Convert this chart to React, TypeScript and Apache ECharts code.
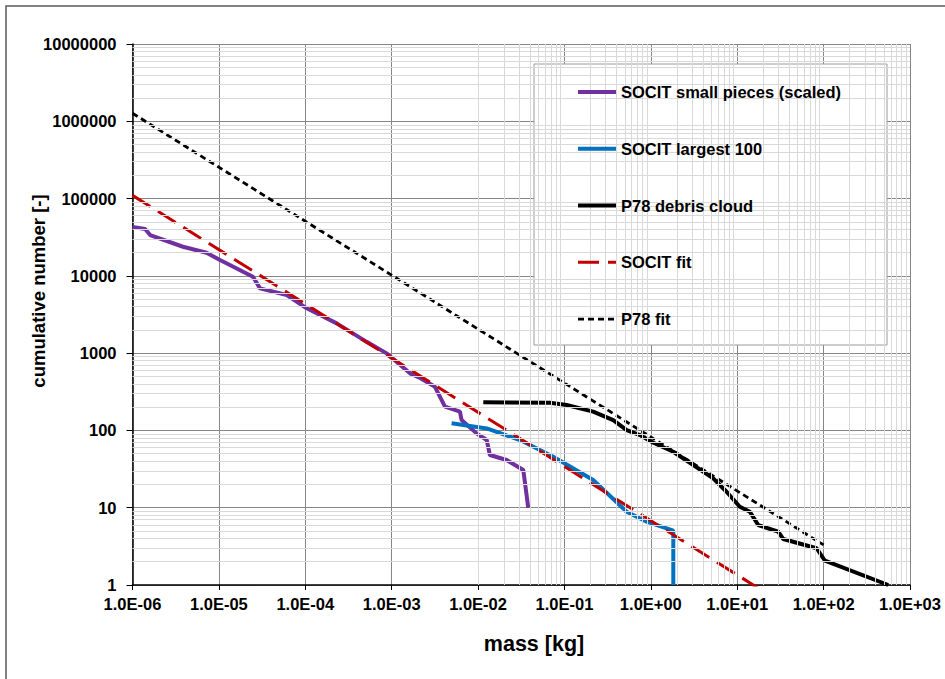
import React, { useEffect, useRef } from "react";
import * as echarts from "echarts";

// mass [kg], cumulative number [-]
const socitSmallPieces: [number, number][] = [
  [1e-6, 42800], [1.4e-6, 40300], [1.6e-6, 33700], [3.84e-6, 23800], [7.2e-6, 19900],
  [1.03e-5, 16000], [2.48e-5, 9730], [2.99e-5, 6890], [6.1e-5, 5650], [1.04e-4, 3800],
  [2.31e-4, 2430], [3.56e-4, 1800], [5.14e-4, 1400], [8.75e-4, 993], [1.63e-3, 548],
  [2.13e-3, 476], [3.17e-3, 367], [4.14e-3, 203], [6.17e-3, 175], [6.45e-3, 136],
  [9.6e-3, 91.6], [1.26e-2, 75.2], [1.37e-2, 48.1], [2.14e-2, 41.4], [3.34e-2, 30.7],
  [3.81e-2, 10],
];
const socitLargest100: [number, number][] = [
  [4.94e-3, 124], [1.26e-2, 106], [3.06e-2, 75], [7.42e-2, 45.7], [0.215, 22.8],
  [0.525, 8.88], [0.894, 6.59], [1.82, 5.04], [1.82, 1],
];
const p78DebrisCloud: [number, number][] = [
  [1.15e-2, 231], [6.8e-2, 228], [0.106, 213], [0.215, 175], [0.367, 136], [0.525, 101],
  [0.748, 87], [1.07, 69.3], [1.82, 53], [3.1, 35.7], [5.27, 24], [7.53, 16.1],
  [10.7, 10.3], [14.0, 8.88], [17.5, 5.97], [29.8, 4.9], [34.0, 3.94], [83, 2.99],
  [103.5, 2.06], [560, 1],
];
const socitFit: [number, number][] = [[1e-6, 110000], [17, 0.93]];
const p78Fit: [number, number][] = [[1e-6, 1270000], [100, 3.3]];

const xDecadeExponents = [-6, -5, -4, -3, -2, -1, 0, 1, 2];
const yDecadeExponents = [0, 1, 2, 3, 4, 5, 6];
const minorMultipliers = [2, 3, 4, 5, 6, 7, 8, 9];

const seriesNames = [
  "SOCIT small pieces (scaled)",
  "SOCIT largest 100",
  "P78 debris cloud",
  "SOCIT fit",
  "P78 fit",
];

const FONT = "'Liberation Sans', Arial, sans-serif";

function fmtX(v: number): string {
  const e = Math.round(Math.log10(v));
  return "1.0E" + (e < 0 ? "-" : "+") + String(Math.abs(e)).padStart(2, "0");
}

export default function App() {
  const ref = useRef<HTMLDivElement>(null);
  useEffect(() => {
    if (!ref.current) return;
    const chart = echarts.init(ref.current, undefined, { renderer: "svg" });
    const minorLines: any[] = [];
    xDecadeExponents.forEach((e) =>
      minorMultipliers.forEach((m) => minorLines.push({ xAxis: m * Math.pow(10, e) }))
    );
    yDecadeExponents.forEach((e) =>
      minorMultipliers.forEach((m) => minorLines.push({ yAxis: m * Math.pow(10, e) }))
    );
    const lineBase = { type: "line", symbol: "none", showSymbol: false, clip: true, z: 3 };
    chart.setOption({
      animation: false,
      backgroundColor: "#ffffff",
      grid: { left: 132.5, right: 35, top: 44, bottom: 94, outerBoundsMode: "none", containLabel: false },
      xAxis: {
        type: "log",
        logBase: 10,
        min: 1e-6,
        max: 1e3,
        z: 2,
        axisLine: { show: true, onZero: false, lineStyle: { color: "#000", width: 1.5 } },
        axisTick: { show: true, length: 5, lineStyle: { color: "#000", width: 1 } },
        splitLine: { show: true, lineStyle: { color: "#868686", width: 1 } },
        axisLabel: {
          margin: 10,
          formatter: fmtX,
          color: "#000",
          fontSize: 16.5,
          fontWeight: "bold",
          fontFamily: FONT,
          showMinLabel: true,
          showMaxLabel: true,
        },
      },
      yAxis: {
        type: "log",
        logBase: 10,
        min: 1,
        max: 1e7,
        z: 2,
        axisLine: { show: true, onZero: false, lineStyle: { color: "#000", width: 1.5 } },
        axisTick: { show: true, length: 6, lineStyle: { color: "#000", width: 1 } },
        splitLine: { show: true, lineStyle: { color: "#868686", width: 1 } },
        axisLabel: {
          margin: 16,
          formatter: (v: number) => String(Math.round(v)),
          color: "#000",
          fontSize: 16.5,
          fontWeight: "bold",
          fontFamily: FONT,
          showMinLabel: true,
          showMaxLabel: true,
        },
      },
      legend: {
        data: seriesNames,
        orient: "vertical",
        left: 576,
        top: 83.4,
        padding: 0,
        itemWidth: 38,
        itemHeight: 14,
        itemGap: 39.8,
        z: 6,
        selectedMode: false,
        itemStyle: { opacity: 0 },
        lineStyle: { width: "inherit" },
        textStyle: { color: "#000", fontSize: 16.5, fontWeight: "bold", fontFamily: FONT },
      },
      graphic: [
        {
          type: "rect",
          z: 0,
          silent: true,
          shape: { x: 6, y: 6, width: 1000, height: 1000 },
          style: { fill: "none", stroke: "#595959", lineWidth: 1.5 },
        },
        {
          type: "rect",
          z: 5,
          silent: true,
          shape: { x: 534, y: 64, width: 353, height: 281 },
          style: { fill: "#ffffff", stroke: "#9a9a9a", lineWidth: 1 },
        },
        {
          type: "text",
          z: 5,
          x: 534,
          y: 644,
          style: {
            text: "mass [kg]",
            align: "center",
            verticalAlign: "middle",
            fill: "#000",
            font: "bold 21.5px " + FONT,
          },
        },
        {
          type: "text",
          z: 5,
          x: 38.5,
          y: 291,
          rotation: Math.PI / 2,
          style: {
            text: "cumulative number [-]",
            align: "center",
            verticalAlign: "middle",
            fill: "#000",
            font: "bold 18.5px " + FONT,
          },
        },
      ],
      series: [
        {
          name: "__minorGrid",
          type: "line",
          data: [[1e-6, 1]],
          symbol: "none",
          lineStyle: { width: 0, opacity: 0 },
          z: 1,
          silent: true,
          markLine: {
            silent: true,
            symbol: ["none", "none"],
            label: { show: false },
            emphasis: { disabled: true },
            lineStyle: { color: "#d9d9d9", type: "solid", width: 1 },
            data: minorLines,
          },
        },
        {
          ...lineBase,
          name: seriesNames[0],
          data: socitSmallPieces,
          lineStyle: { color: "#7030A0", width: 4 },
          itemStyle: { color: "#7030A0" },
        },
        {
          ...lineBase,
          name: seriesNames[1],
          data: socitLargest100,
          lineStyle: { color: "#0070C0", width: 4 },
          itemStyle: { color: "#0070C0" },
        },
        {
          ...lineBase,
          name: seriesNames[2],
          data: p78DebrisCloud,
          lineStyle: { color: "#000000", width: 4 },
          itemStyle: { color: "#000000" },
        },
        {
          ...lineBase,
          name: seriesNames[3],
          data: socitFit,
          z: 4,
          lineStyle: { color: "#C00000", width: 3, type: [21, 9] },
          itemStyle: { color: "#C00000" },
        },
        {
          ...lineBase,
          name: seriesNames[4],
          data: p78Fit,
          z: 4,
          lineStyle: { color: "#000000", width: 2.8, type: [6, 4] },
          itemStyle: { color: "#000000" },
        },
      ],
    });
    return () => chart.dispose();
  }, []);
  return (
    <div
      ref={ref}
      style={{ position: "absolute", left: 0, top: 0, width: 945, height: 679, background: "#fff" }}
    />
  );
}
